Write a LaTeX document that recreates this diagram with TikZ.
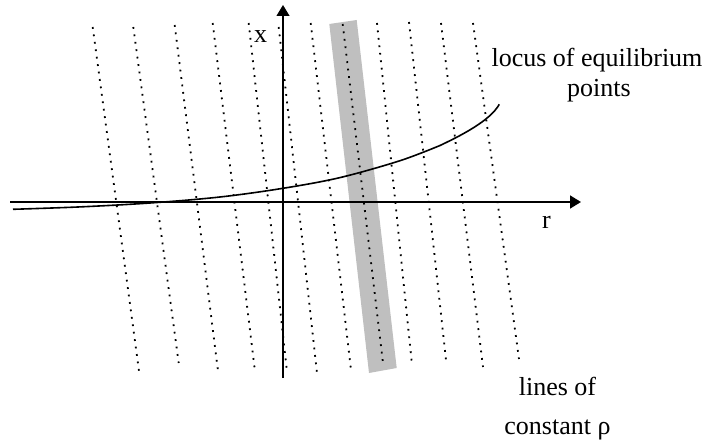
\documentclass[tikz,border=0pt]{standalone}
\usepackage{fontspec}
\setmainfont{Liberation Serif}
\usetikzlibrary{arrows.meta}
\tikzset{
  axis/.style={line width=1.6pt,-{Triangle[length=11pt,width=13pt]}},
  rholine/.style={line width=1.8pt,dash pattern=on 1.8pt off 5.7pt},
  lbl/.style={font=\fontsize{26}{30}\selectfont,inner sep=0pt,anchor=base},
  locus/.style={line width=1.6pt},
  band/.style={fill=black!25,draw=none}
}
\begin{document}
\begin{tikzpicture}[x=1pt,y=-1pt]
\useasboundingbox (0,0) rectangle (710,441);
% shaded band
\fill[band] (329.3,24) -- (356.7,20) -- (396.7,368) -- (369,373) -- cycle;
% lines of constant rho
\foreach \xa/\ya/\xb/\yb [count=\i] in {
  92.7/27/139/371, 133.3/27/178.7/363, 174.7/25/218/371, 212.7/23/254.7/369,
  248.7/23/286.7/369, 278.7/27/317/373, 310.7/23/351/370, 342.7/24/383/363,
  377/23/411.7/362, 409/22/446/360, 441/23/483/367, 473/23/519/359}{
  \coordinate (t\i) at (\xa,\ya);
  \coordinate (b\i) at (\xb,\yb);
  \draw[rholine] (t\i) -- (b\i);
}
% axes
\coordinate (hs) at (10,202);
\coordinate (he) at (581,202);
\coordinate (vs) at (283,378);
\coordinate (ve) at (283,5);
\draw[axis] (hs) -- (he);
\draw[line width=1.2pt,-{Triangle[length=11pt,width=13pt]}] (vs) -- (ve);
% locus of equilibrium points
\coordinate (lend) at (499.3,104.3);
\draw[locus] plot[smooth,tension=0.55] coordinates {
  (13,209.3) (80,206.9) (150,203.0) (220,197.0) (283,188.3) (340,177.6)
  (400,160.7) (440,145.5)}
  .. controls (460,136) and (490,121) .. (lend);
% labels
\node[lbl] (xlab) at (260.5,43) {x};
\node[lbl] (rlab) at (546.5,229) {r};
\node[lbl] (loc1) at (597,67) {locus of equilibrium};
\node[lbl] (loc2) at (599,97) {points};
\node[lbl] (lin1) at (557.5,395) {lines of};
\node[lbl] (lin2) at (557.5,434) {constant ρ};
\end{tikzpicture}
\end{document}
